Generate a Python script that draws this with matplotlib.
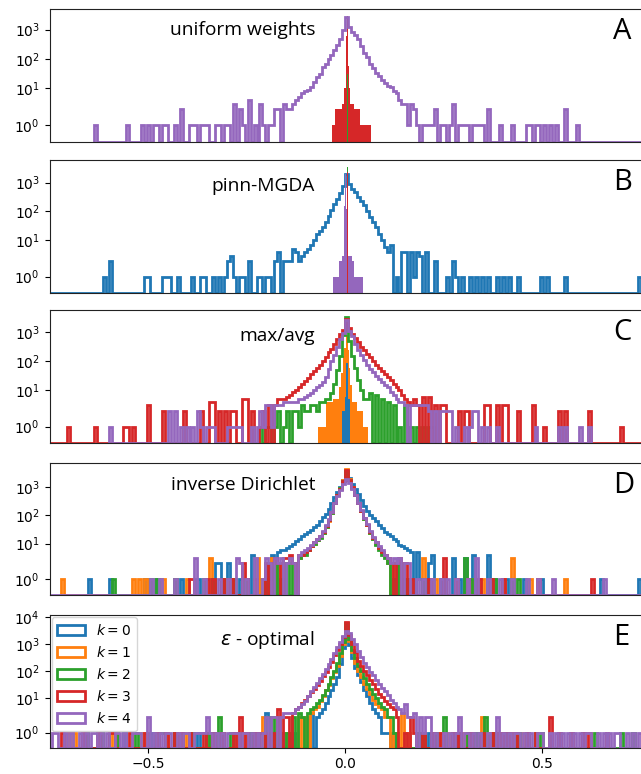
import numpy as np
import matplotlib
matplotlib.use("Agg")
import matplotlib.pyplot as plt
from matplotlib.patches import Patch
from matplotlib.ticker import FixedLocator, NullLocator, LogFormatterSciNotation

# ---------------------------------------------------------------------------
# labels
# ---------------------------------------------------------------------------
series_colors = ['#1f77b4', '#ff7f0e', '#2ca02c', '#d62728', '#9467bd']
series_labels = ['$k = 0$', '$k = 1$', '$k = 2$', '$k = 3$', '$k = 4$']
panel_titles = ['uniform weights', 'pinn-MGDA', 'max/avg',
                'inverse Dirichlet', r'$\varepsilon$ - optimal']
panel_letters = ['A', 'B', 'C', 'D', 'E']
x_tick_values = [-0.5, 0.0, 0.5]
y_tick_values = [1, 10, 100, 1000, 10000]

# common bin grid: bin k covers [k*w, (k+1)*w]
BIN_W = 0.0075
K_MIN = -121
edges = np.arange(K_MIN, -K_MIN + 1) * BIN_W

# ---------------------------------------------------------------------------
# A: uniform weights
# ---------------------------------------------------------------------------
uw_purple_start = -18
uw_purple_core = [3, 4, 5, 7, 8, 9, 11, 17, 25, 32, 54, 69, 100, 135, 212, 308, 494, 944,
                  2800,
                  1200, 830, 650, 494, 270, 165, 115, 69, 48, 33, 26, 19, 15, 12, 11, 8, 7,
                  4, 3, 3, 1, 3]
uw_purple_tail = [(-0.633, 1), (-0.553, 1), (-0.511, 1), (-0.502, 1), (-0.485, 1),
                  (-0.477, 1), (-0.460, 1), (-0.452, 1), (-0.435, 1), (-0.420, 1),
                  (-0.413, 1), (-0.397, 1), (-0.388, 1), (-0.380, 1), (-0.367, 1),
                  (-0.357, 1), (-0.350, 1), (-0.326, 1), (-0.316, 1), (-0.305, 1),
                  (-0.295, 1), (-0.285, 1), (-0.278, 2), (-0.270, 2), (-0.258, 1),
                  (-0.247, 1), (-0.241, 3), (-0.228, 1), (-0.215, 3), (-0.208, 1),
                  (-0.195, 1), (-0.185, 1), (-0.173, 2), (-0.165, 2), (-0.156, 3),
                  (-0.148, 2), (-0.141, 2),
                  (0.173, 2), (0.186, 1), (0.198, 1), (0.205, 1), (0.214, 1), (0.224, 1),
                  (0.232, 2), (0.241, 1), (0.253, 1), (0.266, 1), (0.274, 3), (0.287, 1),
                  (0.297, 1), (0.306, 1), (0.314, 1), (0.325, 1), (0.333, 1), (0.342, 1),
                  (0.350, 1), (0.360, 1), (0.367, 1), (0.397, 1), (0.426, 1), (0.464, 1),
                  (0.472, 1), (0.482, 1), (0.494, 1), (0.506, 1), (0.519, 1), (0.536, 1),
                  (0.561, 2), (0.587, 1), (0.800, 1)]
uw_red_edges = [-0.034, -0.025, -0.008, -0.003, 0.001, 0.003, 0.0045, 0.0065, 0.008,
                0.010, 0.013, 0.021, 0.038, 0.066]
uw_red_counts = [1, 2, 3, 10, 80, 600, 3000, 500, 60, 10, 3, 2, 1]
uw_green_edges = [0.004, 0.0065]
uw_green_counts = [30]

# ---------------------------------------------------------------------------
# B: pinn-MGDA
# ---------------------------------------------------------------------------
pm_blue_start = -15
pm_blue_core = [3, 4, 5, 7, 10, 17, 22, 30, 45, 70, 110, 180, 260, 420, 750,
                2000,
                900, 620, 480, 330, 230, 165, 100, 65, 44, 28, 16, 10, 6, 4, 3]
pm_blue_tail = [(-0.780, 1), (-0.608, 1), (-0.595, 2), (-0.506, 1), (-0.499, 1),
                (-0.461, 1), (-0.453, 1), (-0.443, 1), (-0.422, 1), (-0.384, 1),
                (-0.367, 1), (-0.354, 1), (-0.337, 1), (-0.321, 1), (-0.304, 1),
                (-0.299, 2), (-0.291, 3), (-0.283, 1), (-0.266, 1), (-0.261, 1),
                (-0.246, 1), (-0.241, 1), (-0.223, 1), (-0.215, 1), (-0.198, 1),
                (-0.190, 1), (-0.180, 2), (-0.172, 2), (-0.165, 2), (-0.157, 2),
                (-0.150, 2), (-0.142, 2), (-0.131, 5), (-0.124, 4), (-0.118, 2),
                (0.114, 4), (0.131, 1), (0.143, 4), (0.152, 4), (0.165, 4), (0.177, 1),
                (0.183, 4), (0.190, 3), (0.203, 4), (0.232, 2), (0.256, 1), (0.274, 2),
                (0.283, 1), (0.295, 1), (0.316, 1), (0.337, 1), (0.350, 1), (0.367, 1),
                (0.384, 1), (0.401, 1), (0.418, 1), (0.435, 1), (0.498, 1), (0.511, 1),
                (0.557, 1), (0.747, 1)]
pm_green_edges = [0.0035, 0.0065]
pm_green_counts = [3550]
pm_purple_edges = [-0.030, -0.017, -0.008, -0.004, -0.0025, -0.001, 0.003, 0.0045,
                   0.006, 0.017, 0.023, 0.046]
pm_purple_counts = [1, 2, 3, 15, 150, 2000, 120, 12, 3, 2, 1]
pm_red_edges = [0.0045, 0.006]
pm_red_counts = [2250]

# ---------------------------------------------------------------------------
# C: max/avg
# ---------------------------------------------------------------------------
ma_orange_edges = [-0.070, -0.050, -0.030, -0.015, -0.010, -0.006, -0.002, 0.001,
                   0.006, 0.009, 0.013, 0.018, 0.030, 0.045, 0.058]
ma_orange_counts = [1, 4, 5, 13, 40, 150, 300, 800, 250, 60, 15, 4, 2, 1]
ma_blue_edges = [-0.008, -0.001, 0.001, 0.003, 0.006, 0.008, 0.011, 0.013]
ma_blue_counts = [2, 6, 20, 90, 20, 5, 2]
ma_green_start = -6
ma_green_core = [5, 8, 17, 50, 150, 800, 3500, 500, 150, 60, 22, 10, 5]
ma_green_tail = [(-0.215, 1), (-0.200, 1), (-0.190, 1), (-0.175, 1), (-0.167, 2),
                 (-0.152, 1), (-0.145, 2), (-0.130, 2), (-0.122, 2), (-0.115, 1),
                 (-0.107, 3), (-0.100, 2), (-0.092, 2), (-0.085, 3), (-0.077, 3),
                 (-0.070, 2), (-0.062, 4), (-0.055, 4), (-0.047, 5),
                 (0.054, 5), (0.060, 4), (0.067, 4), (0.075, 4), (0.082, 3), (0.090, 3),
                 (0.097, 2), (0.105, 2), (0.112, 2), (0.120, 2), (0.127, 1), (0.135, 1),
                 (0.150, 2), (0.157, 1), (0.172, 1), (0.180, 1), (0.195, 1), (0.210, 1),
                 (0.223, 1)]
ma_red_start = -24
ma_red_core = [3, 5, 5, 5, 6, 7, 9, 10, 13, 17, 21, 27, 37, 47, 61, 78, 105, 146, 215,
               275, 395, 580, 910, 1230,
               2900,
               1400, 910, 660, 455, 310, 240, 185, 146, 100, 78, 61, 47, 37, 28, 22, 17,
               13, 10, 7, 5, 4, 3]
ma_red_tail = [(-0.800, 1), (-0.700, 1), (-0.637, 1), (-0.561, 1), (-0.548, 1),
               (-0.536, 1), (-0.502, 3), (-0.460, 2), (-0.405, 2), (-0.367, 2),
               (-0.342, 4), (-0.335, 4), (-0.316, 2), (-0.304, 2), (-0.291, 2),
               (-0.283, 2), (-0.256, 5), (-0.248, 5), (-0.233, 2), (-0.215, 1),
               (-0.207, 2), (-0.190, 3),
               (0.175, 5), (0.183, 3), (0.196, 6), (0.213, 6), (0.226, 3), (0.240, 3),
               (0.250, 3), (0.291, 2), (0.300, 2), (0.312, 2), (0.354, 3), (0.367, 3),
               (0.384, 3), (0.401, 3), (0.410, 3), (0.439, 2), (0.473, 3), (0.503, 1),
               (0.540, 2), (0.560, 2), (0.620, 2), (0.700, 1), (0.800, 1)]
ma_purple_start = -24
ma_purple_core = [3, 3, 3, 4, 4, 4, 4, 4, 5, 5, 6, 7, 8, 10, 13, 15, 20, 28, 54, 100,
                  165, 310, 580, 950,
                  2600,
                  1090, 750, 395, 240, 165, 113, 78, 54, 42, 32, 25, 20, 15, 13, 9, 7,
                  5, 4, 4, 3]
ma_purple_tail = [(-0.599, 1), (-0.443, 2), (-0.435, 2), (-0.418, 1), (-0.401, 1),
                  (-0.388, 1), (-0.375, 2), (-0.367, 1), (-0.350, 1), (-0.342, 1),
                  (-0.333, 1), (-0.300, 1), (-0.291, 1), (-0.283, 1), (-0.275, 1),
                  (-0.266, 1), (-0.236, 1), (-0.220, 1), (-0.212, 2), (-0.205, 1),
                  (-0.197, 3), (-0.190, 3), (-0.182, 1),
                  (0.165, 3), (0.173, 3), (0.181, 3), (0.190, 3), (0.198, 3), (0.206, 3),
                  (0.213, 2), (0.232, 2), (0.240, 2), (0.249, 2), (0.258, 2), (0.266, 2),
                  (0.283, 1), (0.300, 1), (0.316, 1), (0.325, 2), (0.333, 2), (0.350, 1),
                  (0.367, 1), (0.384, 1), (0.485, 1), (0.544, 1), (0.561, 1), (0.595, 1),
                  (0.620, 1)]

# ---------------------------------------------------------------------------
# D: inverse Dirichlet
# ---------------------------------------------------------------------------
id_blue_start = -23
id_blue_core = [5, 6, 6, 7, 8, 10, 12, 15, 18, 22, 25, 30, 39, 47, 64, 89, 114, 166, 275,
                450, 660, 960, 1790,
                3000,
                2040, 1230, 850, 580, 350, 214, 145, 101, 78, 61, 47, 35, 26, 21, 18, 14,
                12, 9, 8, 7, 6, 5]
id_blue_tail = [(-0.650, 1), (-0.595, 1), (-0.510, 1), (-0.477, 1), (-0.468, 1),
                (-0.420, 1), (-0.372, 1), (-0.325, 2), (-0.316, 2), (-0.300, 2),
                (-0.270, 1), (-0.240, 4), (-0.228, 1), (-0.215, 1), (-0.200, 1),
                (-0.190, 2), (-0.181, 4),
                (0.181, 5), (0.190, 1), (0.200, 1), (0.215, 2), (0.224, 4), (0.240, 1),
                (0.274, 3), (0.290, 1), (0.304, 3), (0.325, 4), (0.340, 1), (0.363, 4),
                (0.380, 1), (0.410, 1), (0.450, 1), (0.500, 1), (0.650, 1), (0.747, 1)]
id_orange_start = -16
id_orange_core = [3, 4, 5, 6, 8, 10, 13, 17, 24, 40, 65, 120, 260, 500, 900, 1700,
                  4300,
                  1900, 1000, 500, 260, 140, 75, 45, 24, 15, 10, 7, 5, 4]
id_orange_tail = [(-0.713, 1), (-0.540, 1), (-0.519, 1), (-0.510, 1), (-0.460, 1),
                  (-0.435, 1), (-0.400, 1), (-0.338, 3), (-0.305, 1), (-0.290, 1),
                  (-0.260, 1), (-0.224, 3), (-0.205, 1), (-0.190, 1), (-0.181, 3),
                  (-0.165, 2), (-0.150, 2), (-0.140, 3), (-0.130, 2),
                  (0.110, 2), (0.125, 2), (0.140, 2), (0.160, 1), (0.198, 3), (0.230, 1),
                  (0.280, 1), (0.320, 1), (0.350, 1), (0.400, 1), (0.426, 3), (0.470, 1),
                  (0.557, 1)]
id_green_start = -16
id_green_core = [3, 4, 4, 6, 8, 10, 13, 16, 23, 38, 66, 125, 270, 520, 880, 1650,
                 3500,
                 1800, 950, 500, 270, 140, 76, 44, 24, 14, 9, 6, 4, 3]
id_green_tail = [(-0.586, 1), (-0.490, 1), (-0.477, 1), (-0.435, 1), (-0.360, 1),
                 (-0.333, 1), (-0.310, 1), (-0.280, 1), (-0.250, 1), (-0.200, 1),
                 (-0.175, 2), (-0.160, 1), (-0.145, 2), (-0.135, 2), (-0.125, 2),
                 (0.110, 2), (0.120, 1), (0.135, 2), (0.150, 1), (0.200, 1), (0.250, 1),
                 (0.304, 3), (0.320, 1), (0.380, 1), (0.420, 1), (0.440, 1)]
id_red_start = -16
id_red_core = [4, 4, 5, 6, 8, 11, 14, 18, 25, 42, 69, 128, 275, 515, 850, 1580,
               3900,
               1790, 960, 515, 275, 145, 78, 47, 25, 16, 11, 7, 5, 4]
id_red_tail = [(-0.397, 1), (-0.384, 1), (-0.350, 1), (-0.330, 1), (-0.310, 1),
               (-0.290, 1), (-0.260, 2), (-0.250, 1), (-0.230, 1), (-0.200, 2),
               (-0.185, 2), (-0.175, 3), (-0.165, 2), (-0.155, 3), (-0.145, 3),
               (-0.138, 4), (-0.130, 2),
               (0.105, 3), (0.115, 2), (0.130, 2), (0.140, 3), (0.155, 2), (0.170, 1),
               (0.210, 1), (0.253, 3), (0.280, 1), (0.310, 1), (0.340, 1), (0.371, 1),
               (0.400, 1), (0.494, 1), (0.629, 1)]
id_purple_start = -16
id_purple_core = [4, 5, 6, 7, 9, 11, 14, 18, 27, 45, 72, 130, 270, 480, 800, 1300,
                  1900,
                  1400, 850, 500, 280, 150, 82, 50, 27, 17, 11, 8, 6, 4]
id_purple_tail = [(-0.800, 1), (-0.490, 1), (-0.468, 1), (-0.430, 1), (-0.376, 3),
                  (-0.360, 1), (-0.320, 1), (-0.295, 1), (-0.274, 3), (-0.266, 2),
                  (-0.250, 1), (-0.228, 3), (-0.210, 1), (-0.200, 3), (-0.190, 2),
                  (-0.180, 3), (-0.170, 2), (-0.160, 3), (-0.150, 2), (-0.140, 3),
                  (-0.130, 2),
                  (0.105, 3), (0.113, 2), (0.120, 3), (0.130, 2), (0.140, 3), (0.150, 2),
                  (0.160, 2), (0.180, 1), (0.200, 1), (0.220, 1), (0.240, 1), (0.260, 1),
                  (0.280, 1), (0.310, 1), (0.333, 3), (0.360, 1), (0.390, 1), (0.420, 1),
                  (0.460, 1), (0.490, 1), (0.532, 1), (0.654, 1), (0.800, 1)]

# ---------------------------------------------------------------------------
# E: epsilon-optimal
# ---------------------------------------------------------------------------
eo_blue_start = -10
eo_blue_core = [2, 3, 4, 7, 12, 20, 35, 60, 180, 700,
                4000,
                900, 300, 130, 75, 40, 20, 12, 7, 4, 3]
eo_blue_tail = [(-0.560, 1), (-0.490, 1), (-0.430, 1), (-0.370, 1), (-0.330, 1),
                (-0.280, 1), (-0.240, 1), (-0.200, 3), (-0.175, 1), (-0.155, 1),
                (-0.140, 1), (-0.125, 1), (-0.090, 2), (-0.085, 1),
                (0.085, 2), (0.092, 1), (0.100, 1), (0.110, 1), (0.120, 1), (0.150, 1),
                (0.185, 1), (0.210, 1), (0.230, 1), (0.270, 1), (0.290, 1), (0.330, 1),
                (0.350, 1), (0.395, 1)]
eo_orange_start = -12
eo_orange_core = [3, 4, 5, 8, 12, 20, 32, 55, 90, 150, 350, 1000,
                  4500,
                  1300, 500, 200, 100, 60, 35, 22, 14, 9, 6, 5, 4]
eo_orange_tail = [(-0.705, 1), (-0.690, 1), (-0.600, 1), (-0.580, 1), (-0.515, 1),
                  (-0.450, 1), (-0.410, 1), (-0.390, 1), (-0.350, 1), (-0.310, 1),
                  (-0.285, 1), (-0.260, 1), (-0.230, 1), (-0.210, 2), (-0.185, 1),
                  (-0.165, 2), (-0.150, 1), (-0.120, 2), (-0.105, 2),
                  (0.100, 2), (0.110, 2), (0.120, 1), (0.130, 1), (0.148, 3), (0.160, 1),
                  (0.200, 1), (0.225, 1), (0.240, 1), (0.260, 1), (0.300, 1), (0.325, 1),
                  (0.346, 2), (0.360, 1), (0.380, 1), (0.395, 1), (0.410, 1), (0.445, 1)]
eo_green_start = -13
eo_green_core = [3, 4, 5, 7, 9, 13, 20, 35, 60, 100, 200, 450, 1200,
                 6000,
                 1500, 600, 300, 160, 100, 55, 35, 22, 15, 10, 7, 5, 4]
eo_green_tail = [(-0.655, 1), (-0.620, 1), (-0.580, 1), (-0.530, 1), (-0.470, 1),
                 (-0.460, 1), (-0.430, 1), (-0.390, 1), (-0.350, 1), (-0.335, 1),
                 (-0.320, 2), (-0.290, 1), (-0.260, 1), (-0.250, 1), (-0.240, 1),
                 (-0.220, 1), (-0.200, 2), (-0.190, 2), (-0.180, 2), (-0.150, 1),
                 (-0.130, 2), (-0.120, 3), (-0.110, 2),
                 (0.110, 2), (0.118, 2), (0.125, 1), (0.180, 1), (0.200, 1), (0.225, 1),
                 (0.253, 2), (0.270, 1), (0.310, 1), (0.330, 1), (0.355, 2), (0.380, 1),
                 (0.405, 1), (0.440, 1), (0.460, 1), (0.485, 1), (0.500, 1), (0.600, 1),
                 (0.630, 1), (0.700, 1), (0.730, 1)]
eo_red_start = -17
eo_red_core = [4, 5, 7, 9, 12, 17, 23, 32, 45, 65, 95, 140, 220, 400, 600, 1000, 1800,
               6600,
               2200, 1000, 500, 240, 150, 100, 70, 48, 33, 22, 15, 11, 8, 6, 5, 4]
eo_red_tail = [(-0.720, 1), (-0.665, 1), (-0.625, 1), (-0.600, 1), (-0.590, 1),
               (-0.545, 1), (-0.510, 1), (-0.480, 1), (-0.455, 1), (-0.435, 1),
               (-0.420, 1), (-0.395, 1), (-0.360, 1), (-0.330, 1), (-0.310, 1),
               (-0.285, 1), (-0.270, 2), (-0.255, 1), (-0.230, 1), (-0.215, 1),
               (-0.205, 1), (-0.190, 1), (-0.175, 1), (-0.165, 4), (-0.155, 2),
               (-0.145, 2), (-0.135, 3),
               (0.130, 2), (0.150, 1), (0.165, 2), (0.175, 1), (0.195, 1), (0.220, 1),
               (0.240, 1), (0.270, 1), (0.285, 1), (0.320, 1), (0.350, 1), (0.370, 1),
               (0.385, 1), (0.400, 1), (0.415, 1), (0.430, 1), (0.460, 1), (0.480, 1),
               (0.523, 2), (0.545, 1), (0.570, 1), (0.603, 1), (0.620, 1), (0.660, 1)]
eo_purple_start = -19
eo_purple_core = [3, 3, 4, 5, 6, 8, 12, 18, 26, 38, 55, 80, 120, 180, 280, 450, 800,
                  1200, 2000,
                  2900,
                  2500, 1500, 1000, 550, 320, 200, 140, 95, 70, 48, 34, 25, 18, 13, 9, 7,
                  5, 4, 3, 3]
eo_purple_tail = [(-0.800, 1), (-0.742, 1), (-0.735, 1), (-0.712, 1), (-0.696, 1),
                  (-0.673, 1), (-0.655, 1), (-0.640, 1), (-0.633, 1), (-0.616, 1),
                  (-0.607, 1), (-0.585, 1), (-0.572, 1), (-0.555, 1), (-0.538, 1),
                  (-0.530, 1), (-0.523, 1), (-0.502, 2), (-0.484, 1), (-0.470, 1),
                  (-0.455, 1), (-0.443, 1), (-0.425, 1), (-0.409, 1), (-0.400, 1),
                  (-0.380, 1), (-0.372, 1), (-0.365, 1), (-0.359, 1), (-0.346, 2),
                  (-0.338, 1), (-0.325, 1), (-0.310, 1), (-0.300, 1), (-0.292, 1),
                  (-0.283, 1), (-0.275, 1), (-0.260, 1), (-0.249, 1), (-0.235, 1),
                  (-0.224, 1), (-0.210, 1), (-0.198, 2), (-0.185, 2), (-0.175, 2),
                  (-0.164, 2), (-0.155, 3), (-0.148, 3),
                  (0.155, 3), (0.163, 2), (0.170, 2), (0.178, 3), (0.190, 2), (0.200, 1),
                  (0.208, 2), (0.215, 2), (0.230, 1), (0.250, 1), (0.265, 1), (0.280, 1),
                  (0.291, 2), (0.300, 1), (0.310, 1), (0.325, 1), (0.340, 1), (0.360, 1),
                  (0.388, 2), (0.400, 1), (0.418, 1), (0.430, 1), (0.440, 1), (0.451, 1),
                  (0.468, 1), (0.490, 1), (0.502, 1), (0.520, 1), (0.535, 1), (0.550, 1),
                  (0.565, 1), (0.580, 1), (0.595, 1), (0.610, 1), (0.620, 1), (0.640, 1),
                  (0.654, 1), (0.671, 1), (0.685, 1), (0.692, 1), (0.713, 1), (0.730, 1),
                  (0.747, 1), (0.800, 1)]

# ---------------------------------------------------------------------------
# per-panel drawing order
# ('wide', k, core_start, core, tail) : histogram on the common bin grid
# ('narrow', k, env_edges, env_counts) : very narrow histogram, drawn filled
# ---------------------------------------------------------------------------
panels = [
    [('narrow', 3, uw_red_edges, uw_red_counts),
     ('wide', 4, uw_purple_start, uw_purple_core, uw_purple_tail),
     ('narrow', 2, uw_green_edges, uw_green_counts)],
    [('wide', 0, pm_blue_start, pm_blue_core, pm_blue_tail),
     ('narrow', 2, pm_green_edges, pm_green_counts),
     ('narrow', 4, pm_purple_edges, pm_purple_counts),
     ('narrow', 3, pm_red_edges, pm_red_counts)],
    [('narrow', 1, ma_orange_edges, ma_orange_counts),
     ('narrow', 0, ma_blue_edges, ma_blue_counts),
     ('wide', 2, ma_green_start, ma_green_core, ma_green_tail),
     ('wide', 3, ma_red_start, ma_red_core, ma_red_tail),
     ('wide', 4, ma_purple_start, ma_purple_core, ma_purple_tail)],
    [('wide', 0, id_blue_start, id_blue_core, id_blue_tail),
     ('wide', 1, id_orange_start, id_orange_core, id_orange_tail),
     ('wide', 2, id_green_start, id_green_core, id_green_tail),
     ('wide', 3, id_red_start, id_red_core, id_red_tail),
     ('wide', 4, id_purple_start, id_purple_core, id_purple_tail)],
    [('wide', 0, eo_blue_start, eo_blue_core, eo_blue_tail),
     ('wide', 1, eo_orange_start, eo_orange_core, eo_orange_tail),
     ('wide', 2, eo_green_start, eo_green_core, eo_green_tail),
     ('wide', 3, eo_red_start, eo_red_core, eo_red_tail),
     ('wide', 4, eo_purple_start, eo_purple_core, eo_purple_tail)],
]

LINE_W = 2.0


def binned_counts(core_start, core, tail):
    counts = np.zeros(len(edges) - 1)
    i0 = core_start - K_MIN
    counts[i0:i0 + len(core)] += np.asarray(core, dtype=float)
    xs = [t[0] for t in tail]
    ns = [t[1] for t in tail]
    h, _ = np.histogram(xs, bins=edges, weights=ns)
    return counts + h


def draw_wide(ax, k, core_start, core, tail, z):
    counts = binned_counts(core_start, core, tail)
    nz = np.nonzero(counts)[0]
    lo, hi = nz[0], nz[-1] + 1
    ax.stairs(counts[lo:hi], edges[lo:hi + 1], baseline=0,
              color=series_colors[k], lw=LINE_W, zorder=z)


def draw_narrow(ax, k, env_edges, env_counts, z):
    ax.stairs(env_counts, env_edges, baseline=0, fill=True,
              color=series_colors[k], lw=0.8, zorder=z)


fig = plt.figure(figsize=(6.41, 7.74), dpi=100)
ax_left = 49.5 / 641
ax_width = 591.5 / 641
ax_height = 0.171
ax_bottoms = [0.8169, 0.6218, 0.4280, 0.2313, 0.0340]
title_y = [0.846, 0.81, 0.806, 0.83, 0.81]

axes = []
for p, series in enumerate(panels):
    ax = fig.add_axes([ax_left, ax_bottoms[p], ax_width, ax_height])
    axes.append(ax)
    ax.set_yscale('symlog', linthresh=2, linscale=1)
    for z, s in enumerate(series):
        if s[0] == 'wide':
            draw_wide(ax, s[1], s[2], s[3], s[4], 2 + z * 0.1)
        else:
            draw_narrow(ax, s[1], s[2], s[3], 2 + z * 0.1)
    ax.set_xlim(-0.75, 0.75)
    ax.yaxis.set_major_locator(FixedLocator(y_tick_values))
    ax.yaxis.set_minor_locator(NullLocator())
    ax.yaxis.set_major_formatter(LogFormatterSciNotation(base=10))
    ax.spines['right'].set_visible(False)
    for side in ('left', 'top', 'bottom'):
        ax.spines[side].set_color('#222222')
    ax.text(0.449, title_y[p], panel_titles[p], transform=ax.transAxes,
            ha='right', va='center', fontsize=13.8, family=['Open Sans', 'DejaVu Sans'])
    ax.text(0.953, 0.83, panel_letters[p], transform=ax.transAxes,
            ha='left', va='center', fontsize=21, family=['Open Sans', 'DejaVu Sans'])
    if p < len(panels) - 1:
        ax.tick_params(axis='x', bottom=False, labelbottom=False)
    else:
        ax.set_xticks(x_tick_values)

handles = [Patch(facecolor='none', edgecolor=c, linewidth=LINE_W) for c in series_colors]
axes[-1].legend(handles, series_labels, loc='upper left', borderaxespad=0.15)

fig.savefig('out.png', dpi=100)
